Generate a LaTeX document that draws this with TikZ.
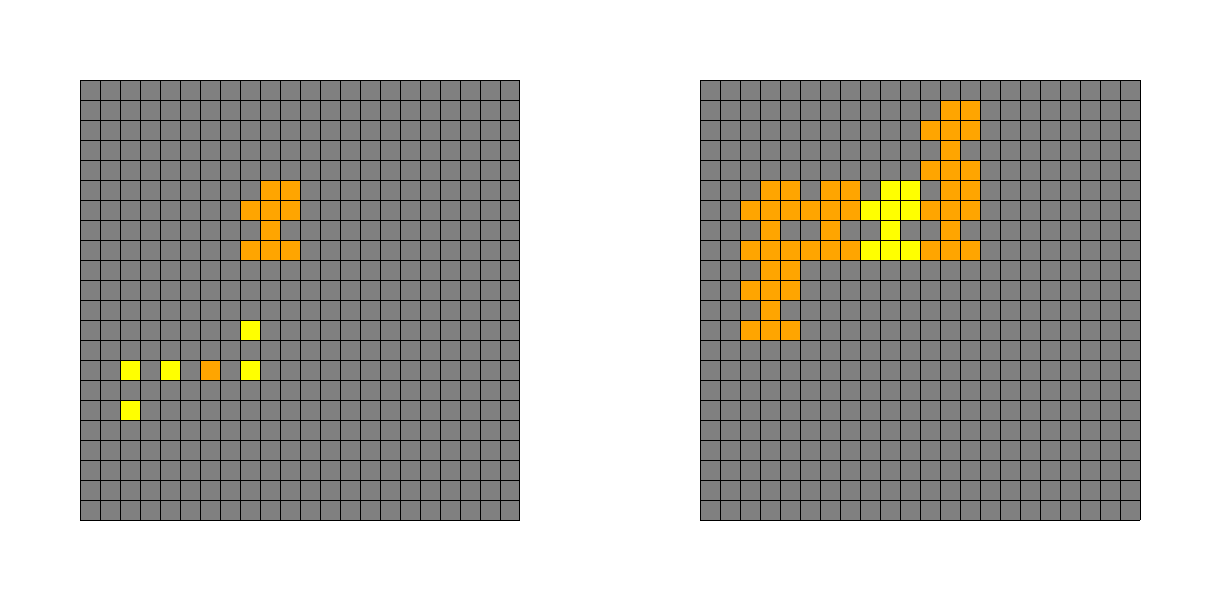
\documentclass[tikz,border=0pt]{standalone}
\begin{document}
\begin{tikzpicture}[x=0.5cm,y=-0.5cm,
  gridline/.style={black,line width=0.7pt},
  cellgray/.style={fill={rgb,255:red,128;green,128;blue,128}},
  cellorange/.style={fill={rgb,255:red,255;green,165;blue,0}},
  cellyellow/.style={fill={rgb,255:red,255;green,255;blue,0}}]
\useasboundingbox (0,0) rectangle (61,30);
% ---------- left grid ----------
\begin{scope}[shift={(4,4)}]
  \fill[cellgray] (0,0) rectangle (22,22);
  \foreach \c/\r in {9/5,10/5,8/6,9/6,10/6,9/7,8/8,9/8,10/8,6/14}
    \fill[cellorange] (\c,\r) rectangle ++(1,1);
  \foreach \c/\r in {8/12,2/14,4/14,8/14,2/16}
    \fill[cellyellow] (\c,\r) rectangle ++(1,1);
  \draw[gridline,step=0.5cm] (0,0) grid (22,22);
\end{scope}
% ---------- right grid ----------
\begin{scope}[shift={(35,4)}]
  \fill[cellgray] (0,0) rectangle (22,22);
  \foreach \c/\r in {12/1,13/1,11/2,12/2,13/2,12/3,11/4,12/4,13/4,
      3/5,4/5,6/5,7/5,12/5,13/5,
      2/6,3/6,4/6,5/6,6/6,7/6,11/6,12/6,13/6,
      3/7,6/7,12/7,
      2/8,3/8,4/8,5/8,6/8,7/8,11/8,12/8,13/8,
      3/9,4/9,2/10,3/10,4/10,3/11,2/12,3/12,4/12}
    \fill[cellorange] (\c,\r) rectangle ++(1,1);
  \foreach \c/\r in {9/5,10/5,8/6,9/6,10/6,9/7,8/8,9/8,10/8}
    \fill[cellyellow] (\c,\r) rectangle ++(1,1);
  \draw[gridline,step=0.5cm] (0,0) grid (22,22);
\end{scope}
\end{tikzpicture}
\end{document}
